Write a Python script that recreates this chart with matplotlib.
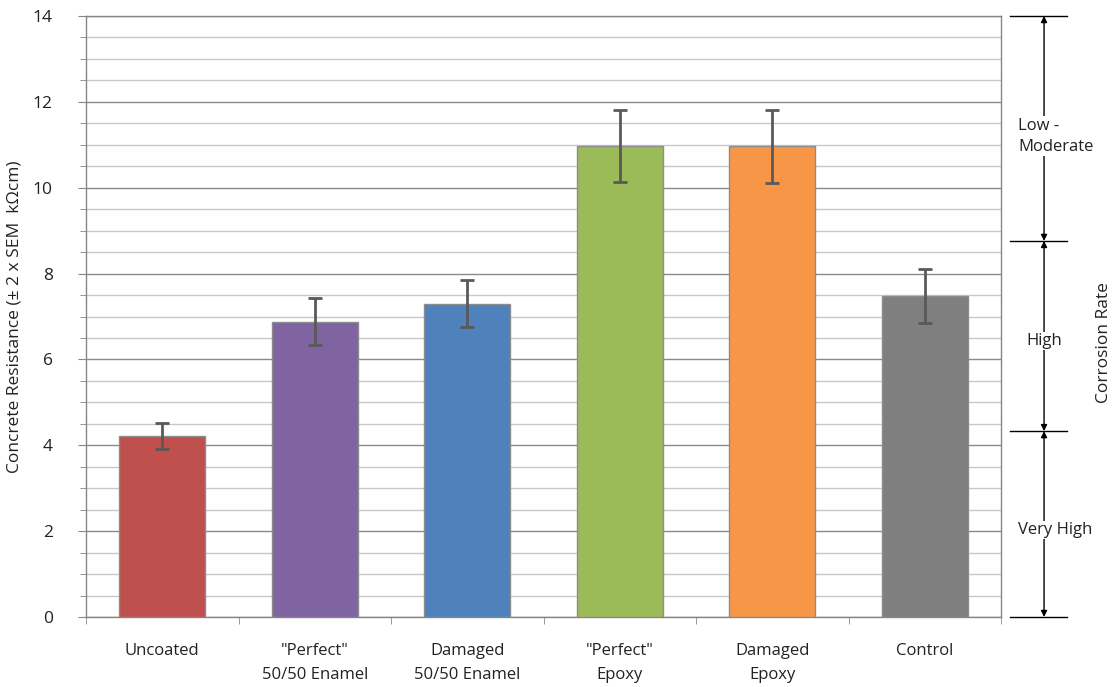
import numpy as np
import matplotlib.pyplot as plt
from matplotlib.ticker import MultipleLocator, FixedLocator

categories = ['Uncoated', '"Perfect"\n50/50 Enamel', 'Damaged\n50/50 Enamel',
              '"Perfect"\nEpoxy', 'Damaged\nEpoxy', 'Control']
resistance = [4.22, 6.88, 7.30, 10.97, 10.97, 7.48]
err = [0.30, 0.55, 0.55, 0.83, 0.85, 0.62]
colors = ['#C0504D', '#8064A2', '#4F81BD', '#9BBB59', '#F79646', '#7F7F7F']

# corrosion rate bands (kOhm cm)
band_edges = [0, 4.33, 8.76, 14]
band_labels = ['Very High', 'High', 'Low -\nModerate']
label_y = [2.03, 6.43, 11.2]

plt.rcParams['font.family'] = ['Open Sans', 'DejaVu Sans']

fig = plt.figure(figsize=(11.14, 6.87), dpi=100)
ax = fig.add_axes([0.0772, 0.1019, 0.8214, 0.8748])

x = np.arange(len(categories))
ax.bar(x, resistance, width=0.565, color=colors, edgecolor='#8c8c8c',
       linewidth=1, zorder=3)
ax.errorbar(x, resistance, yerr=err, fmt='none', ecolor='#595959',
            elinewidth=2, capsize=5, capthick=2, zorder=4)

ax.set_xlim(-0.5, len(categories) - 0.5)
ax.set_ylim(0, 14)
ax.yaxis.set_major_locator(MultipleLocator(2))
ax.yaxis.set_minor_locator(MultipleLocator(0.5))
ax.grid(which='major', axis='y', color='#8a8a8a', linewidth=1, zorder=0)
ax.grid(which='minor', axis='y', color='#c8c8c8', linewidth=1, zorder=0)
ax.set_axisbelow(True)

ax.set_xticks(x)
ax.set_xticklabels(categories, fontsize=12, color='#222222', linespacing=1.6)
ax.xaxis.set_minor_locator(FixedLocator(np.arange(-0.5, len(categories), 1)))
ax.tick_params(axis='x', which='major', length=0, pad=19)
ax.tick_params(axis='x', which='minor', length=5, color='#868686')
ax.tick_params(axis='y', which='major', length=6, color='#868686',
               labelsize=12.5, pad=18, labelcolor='#222222')
ax.tick_params(axis='y', which='minor', length=4, color='#868686')
for s in ax.spines.values():
    s.set_color('#868686')
    s.set_linewidth(1)

ax.set_ylabel('Concrete Resistance (\u00b1 2 x SEM  k\u03a9cm)',
              fontsize=12.5, color='#222222', labelpad=7)

# corrosion rate bands on the right
trans = ax.get_yaxis_transform()
for e in band_edges:
    ax.plot([1.01, 1.072], [e, e], transform=trans, color='black',
            linewidth=1, clip_on=False)
for lo, hi, lab, ly in zip(band_edges[:-1], band_edges[1:], band_labels, label_y):
    ax.annotate('', xy=(1.047, hi), xytext=(1.047, lo),
                xycoords=trans, textcoords=trans,
                arrowprops=dict(arrowstyle='<|-|>', color='black', lw=1,
                                mutation_scale=9, shrinkA=0, shrinkB=0))
    if lab == 'High':
        tx, ha = 1.047, 'center'
    else:
        tx, ha = 1.0186, 'left'
    ax.text(tx, ly, lab, transform=trans, ha=ha, va='center', fontsize=12,
            color='#222222', linespacing=1.4,
            bbox=dict(facecolor='white', edgecolor='none', pad=1))
ax.text(1.113, 6.4, 'Corrosion Rate', transform=trans, rotation=90,
        ha='center', va='center', fontsize=12.5, color='#222222')

fig.savefig('out.png', dpi=100)
